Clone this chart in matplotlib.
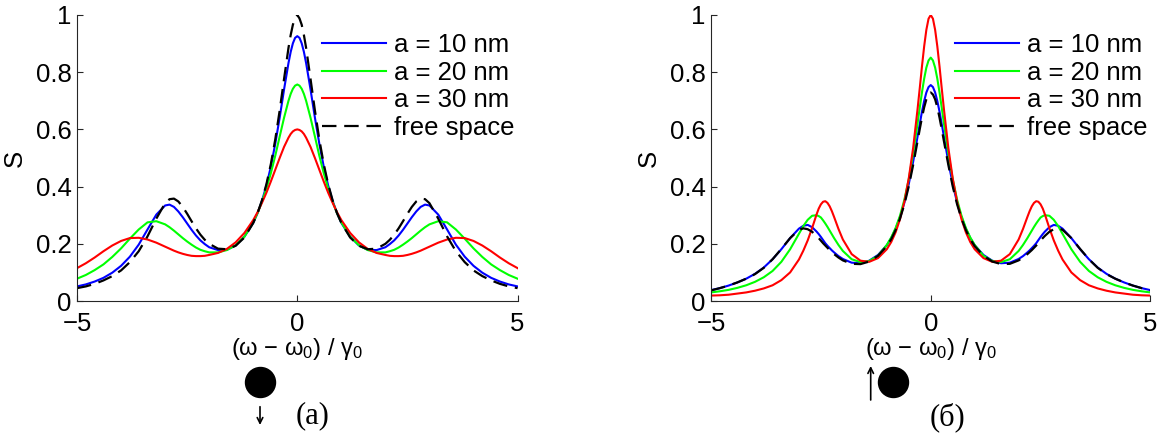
import matplotlib
matplotlib.use("Agg")
import matplotlib.pyplot as plt
from matplotlib.lines import Line2D
from matplotlib.patches import FancyArrowPatch


# detuning (omega - omega0) / gamma0, panel (a)
detuning_a = [-5.0, -4.8, -4.6, -4.4, -4.2, -4.0, -3.8, -3.6, -3.4, -3.2,
              -3.0, -2.9, -2.8, -2.7, -2.6, -2.5, -2.4, -2.3, -2.2, -2.1,
              -2.0, -1.8, -1.6, -1.4, -1.2, -1.0, -0.9, -0.8, -0.7, -0.6,
              -0.5, -0.4, -0.3, -0.2, -0.15, -0.1, -0.05,
              0.0,
              0.05, 0.1, 0.15, 0.2, 0.3, 0.4, 0.5,
              0.6, 0.7, 0.8, 0.9, 1.0, 1.2, 1.4, 1.6, 1.8, 2.0,
              2.1, 2.2, 2.3, 2.4, 2.5, 2.6, 2.7, 2.8, 2.9, 3.0,
              3.2, 3.4, 3.6, 3.8, 4.0, 4.2, 4.4, 4.6, 4.8, 5.0]

# (a) dipole perpendicular to the surface
s_a_10 = [0.051, 0.058, 0.068, 0.081, 0.099, 0.123, 0.155, 0.197, 0.250, 0.302,
          0.334, 0.337, 0.329, 0.313, 0.293, 0.271, 0.249, 0.229, 0.212, 0.199,
          0.188, 0.178, 0.179, 0.194, 0.225, 0.273, 0.308, 0.351, 0.404, 0.470,
          0.550, 0.641, 0.740, 0.832, 0.871, 0.901, 0.920,
          0.926,
          0.920, 0.901, 0.871, 0.832, 0.740, 0.641, 0.550,
          0.470, 0.404, 0.351, 0.308, 0.273, 0.225, 0.194, 0.179, 0.178, 0.188,
          0.199, 0.212, 0.229, 0.249, 0.271, 0.293, 0.313, 0.329, 0.337, 0.334,
          0.302, 0.250, 0.197, 0.155, 0.123, 0.099, 0.081, 0.068, 0.058, 0.051]
s_a_20 = [0.078, 0.091, 0.108, 0.128, 0.154, 0.184, 0.218, 0.250, 0.275, 0.279,
          0.268, 0.258, 0.246, 0.233, 0.220, 0.208, 0.197, 0.187, 0.179, 0.174,
          0.170, 0.170, 0.178, 0.195, 0.225, 0.275, 0.308, 0.348, 0.394, 0.447,
          0.508, 0.575, 0.641, 0.700, 0.724, 0.742, 0.753,
          0.757,
          0.753, 0.742, 0.724, 0.700, 0.641, 0.575, 0.508,
          0.447, 0.394, 0.348, 0.308, 0.275, 0.225, 0.195, 0.178, 0.170, 0.170,
          0.174, 0.179, 0.187, 0.197, 0.208, 0.220, 0.233, 0.246, 0.258, 0.268,
          0.279, 0.275, 0.250, 0.218, 0.184, 0.154, 0.128, 0.108, 0.091, 0.078]
s_a_30 = [0.115, 0.132, 0.152, 0.174, 0.194, 0.210, 0.220, 0.221, 0.215, 0.204,
          0.190, 0.183, 0.176, 0.170, 0.165, 0.161, 0.158, 0.157, 0.157, 0.158,
          0.161, 0.168, 0.182, 0.205, 0.238, 0.283, 0.311, 0.344, 0.379, 0.418,
          0.459, 0.500, 0.539, 0.571, 0.584, 0.593, 0.598,
          0.600,
          0.598, 0.593, 0.584, 0.571, 0.539, 0.500, 0.459,
          0.418, 0.379, 0.344, 0.311, 0.283, 0.238, 0.205, 0.182, 0.168, 0.161,
          0.158, 0.157, 0.157, 0.158, 0.161, 0.165, 0.170, 0.176, 0.183, 0.190,
          0.204, 0.215, 0.221, 0.220, 0.210, 0.194, 0.174, 0.152, 0.132, 0.115]
s_a_free = [0.045, 0.051, 0.060, 0.072, 0.087, 0.107, 0.136, 0.174, 0.226, 0.288,
            0.342, 0.356, 0.358, 0.348, 0.329, 0.305, 0.279, 0.254, 0.232, 0.214,
            0.200, 0.183, 0.181, 0.193, 0.222, 0.273, 0.308, 0.353, 0.409, 0.479,
            0.565, 0.666, 0.777, 0.885, 0.930, 0.966, 0.988,
            1.000,
            0.988, 0.966, 0.930, 0.885, 0.777, 0.666, 0.565,
            0.479, 0.409, 0.353, 0.308, 0.273, 0.222, 0.193, 0.181, 0.183, 0.200,
            0.214, 0.232, 0.254, 0.279, 0.305, 0.329, 0.348, 0.358, 0.356, 0.342,
            0.288, 0.226, 0.174, 0.136, 0.107, 0.087, 0.072, 0.060, 0.051, 0.045]

# detuning, panel (b): denser near the narrow peaks
detuning_b = [-5.0, -4.8, -4.6, -4.4, -4.2, -4.0, -3.8, -3.6, -3.4, -3.2,
              -3.0, -2.9, -2.8, -2.7, -2.6, -2.55, -2.5, -2.45, -2.4, -2.35,
              -2.3, -2.25, -2.2, -2.1, -2.0, -1.8, -1.6, -1.4, -1.2, -1.0,
              -0.9, -0.8, -0.7, -0.6, -0.5, -0.4, -0.3, -0.25, -0.2, -0.15,
              -0.1, -0.05, 0.0, 0.05, 0.1,
              0.15, 0.2, 0.25, 0.3, 0.4, 0.5, 0.6, 0.7, 0.8, 0.9,
              1.0, 1.2, 1.4, 1.6, 1.8, 2.0, 2.1, 2.2, 2.25, 2.3,
              2.35, 2.4, 2.45, 2.5, 2.55, 2.6, 2.7, 2.8, 2.9, 3.0,
              3.2, 3.4, 3.6, 3.8, 4.0, 4.2, 4.4, 4.6, 4.8, 5.0]

# (b) dipole parallel to the surface
s_b_10 = [0.038, 0.045, 0.054, 0.065, 0.078, 0.095, 0.117, 0.146, 0.181, 0.220,
          0.253, 0.263, 0.266, 0.258, 0.243, 0.234, 0.224, 0.213, 0.202, 0.193,
          0.185, 0.177, 0.170, 0.157, 0.147, 0.134, 0.132, 0.141, 0.161, 0.195,
          0.220, 0.252, 0.293, 0.344, 0.409, 0.487, 0.575, 0.619, 0.662, 0.699,
          0.729, 0.748, 0.755, 0.748, 0.729,
          0.699, 0.662, 0.619, 0.575, 0.487, 0.409, 0.344, 0.293, 0.252, 0.220,
          0.195, 0.161, 0.141, 0.132, 0.134, 0.147, 0.157, 0.170, 0.177, 0.185,
          0.193, 0.202, 0.213, 0.224, 0.234, 0.243, 0.258, 0.266, 0.263, 0.253,
          0.220, 0.181, 0.146, 0.117, 0.095, 0.078, 0.065, 0.054, 0.045, 0.038]
s_b_20 = [0.030, 0.034, 0.039, 0.046, 0.055, 0.067, 0.083, 0.105, 0.137, 0.181,
          0.235, 0.262, 0.284, 0.298, 0.300, 0.297, 0.292, 0.282, 0.271, 0.259,
          0.246, 0.233, 0.220, 0.196, 0.175, 0.146, 0.136, 0.140, 0.158, 0.196,
          0.222, 0.255, 0.298, 0.354, 0.426, 0.516, 0.621, 0.676, 0.729, 0.777,
          0.816, 0.841, 0.851, 0.841, 0.816,
          0.777, 0.729, 0.676, 0.621, 0.516, 0.426, 0.354, 0.298, 0.255, 0.222,
          0.196, 0.158, 0.140, 0.136, 0.146, 0.175, 0.196, 0.220, 0.233, 0.246,
          0.259, 0.271, 0.282, 0.292, 0.297, 0.300, 0.298, 0.284, 0.262, 0.235,
          0.181, 0.137, 0.105, 0.083, 0.067, 0.055, 0.046, 0.039, 0.034, 0.030]
s_b_30 = [0.019, 0.020, 0.022, 0.026, 0.030, 0.036, 0.044, 0.055, 0.073, 0.100,
          0.145, 0.176, 0.212, 0.255, 0.302, 0.323, 0.338, 0.347, 0.349, 0.343,
          0.331, 0.314, 0.294, 0.252, 0.215, 0.164, 0.141, 0.137, 0.150, 0.181,
          0.206, 0.240, 0.286, 0.347, 0.429, 0.536, 0.671, 0.744, 0.820, 0.890,
          0.948, 0.987, 1.000, 0.987, 0.948,
          0.890, 0.820, 0.744, 0.671, 0.536, 0.429, 0.347, 0.286, 0.240, 0.206,
          0.181, 0.150, 0.137, 0.141, 0.164, 0.215, 0.252, 0.294, 0.314, 0.331,
          0.343, 0.349, 0.347, 0.338, 0.323, 0.302, 0.255, 0.212, 0.176, 0.145,
          0.100, 0.073, 0.055, 0.044, 0.036, 0.030, 0.026, 0.022, 0.020, 0.019]
s_b_free = [0.037, 0.045, 0.054, 0.065, 0.078, 0.094, 0.116, 0.146, 0.182, 0.220,
            0.249, 0.254, 0.251, 0.242, 0.228, 0.220, 0.211, 0.202, 0.194, 0.186,
            0.178, 0.171, 0.164, 0.152, 0.142, 0.130, 0.129, 0.138, 0.158, 0.192,
            0.216, 0.248, 0.288, 0.338, 0.401, 0.476, 0.559, 0.601, 0.641, 0.677,
            0.705, 0.722, 0.729, 0.722, 0.705,
            0.677, 0.641, 0.601, 0.559, 0.476, 0.401, 0.338, 0.288, 0.248, 0.216,
            0.192, 0.158, 0.138, 0.129, 0.130, 0.142, 0.152, 0.164, 0.171, 0.178,
            0.186, 0.194, 0.202, 0.211, 0.220, 0.228, 0.242, 0.251, 0.254, 0.249,
            0.220, 0.182, 0.146, 0.116, 0.094, 0.078, 0.065, 0.054, 0.045, 0.037]

labels = ['a = 10 nm', 'a = 20 nm', 'a = 30 nm', 'free space']
colors = ['#0000ff', '#00ff00', '#ff0000', 'black']

x_ticks = [-5, 0, 5]
y_ticks = [0, 0.2, 0.4, 0.6, 0.8, 1]
y_ticklabels = ['0', '0.2', '0.4', '0.6', '0.8', '1']

plt.rcParams['font.family'] = ['Liberation Sans', 'DejaVu Sans']
plt.rcParams['mathtext.fontset'] = 'custom'
plt.rcParams['mathtext.rm'] = 'Liberation Sans'
plt.rcParams['mathtext.it'] = 'Liberation Sans'

FS = 18.5

fig = plt.figure(figsize=(11.67, 4.37), dpi=100)
ax_a = fig.add_axes([0.0660, 0.3112, 0.3775, 0.6545])
ax_b = fig.add_axes([0.6093, 0.3112, 0.3765, 0.6545])

panels = [(ax_a, detuning_a, [s_a_10, s_a_20, s_a_30, s_a_free]),
          (ax_b, detuning_b, [s_b_10, s_b_20, s_b_30, s_b_free])]

for ax, x, curves in panels:
    for s, lab, col in zip(curves, labels, colors):
        if lab == 'free space':
            ax.plot(x, s, color=col, lw=1.6, dashes=(6.5, 3.5), label=lab)
        else:
            ax.plot(x, s, color=col, lw=1.5, label=lab)

    ax.set_xlim(-5, 5)
    ax.set_ylim(0, 1)
    ax.set_xticks(x_ticks)
    ax.set_yticks(y_ticks)
    ax.set_yticklabels(y_ticklabels)
    ax.spines['top'].set_visible(False)
    ax.spines['right'].set_visible(False)
    for side in ['left', 'bottom']:
        ax.spines[side].set_linewidth(0.8)
        ax.spines[side].set_color('#262626')
    ax.tick_params(direction='in', length=4, width=0.8, labelsize=FS,
                   colors='#262626', labelcolor='black')
    ax.tick_params(axis='x', pad=8)
    ax.tick_params(axis='y', pad=4)
    ax.set_xlabel(r'(ω − ω$_0$) / γ$_0$', fontsize=17, labelpad=0)
    ax.set_ylabel('S', fontsize=FS)
    ax.yaxis.set_label_coords(-0.115, 0.5)
    ax.legend(loc='upper left', bbox_to_anchor=(0.5555, 0.937), frameon=False,
              fontsize=FS, handlelength=2.5, handletextpad=0.3,
              labelspacing=0.14, borderpad=0, borderaxespad=0)

# dipole sketches under the panels
fig.add_artist(Line2D([0.2228], [0.1265], marker='o', markersize=21.6,
                      color='black', transform=fig.transFigure))
fig.add_artist(FancyArrowPatch((0.2228, 0.0693), (0.2228, 0.0275),
                               transform=fig.transFigure, arrowstyle='->',
                               mutation_scale=10, lw=1.2, color='black',
                               shrinkA=0, shrinkB=0))
fig.text(0.2682, 0.0481, '(a)', fontsize=22, family='Liberation Serif',
         ha='center', va='center')

fig.add_artist(Line2D([0.7655], [0.1265], marker='o', markersize=21.6,
                      color='black', transform=fig.transFigure))
fig.add_artist(FancyArrowPatch((0.7461, 0.0847), (0.7461, 0.1625),
                               transform=fig.transFigure, arrowstyle='->',
                               mutation_scale=10, lw=1.2, color='black',
                               shrinkA=0, shrinkB=0))
fig.text(0.8119, 0.0458, '(б)', fontsize=22, family='Liberation Serif',
         ha='center', va='center')

fig.savefig('out.png', dpi=100)
plt.close(fig)
